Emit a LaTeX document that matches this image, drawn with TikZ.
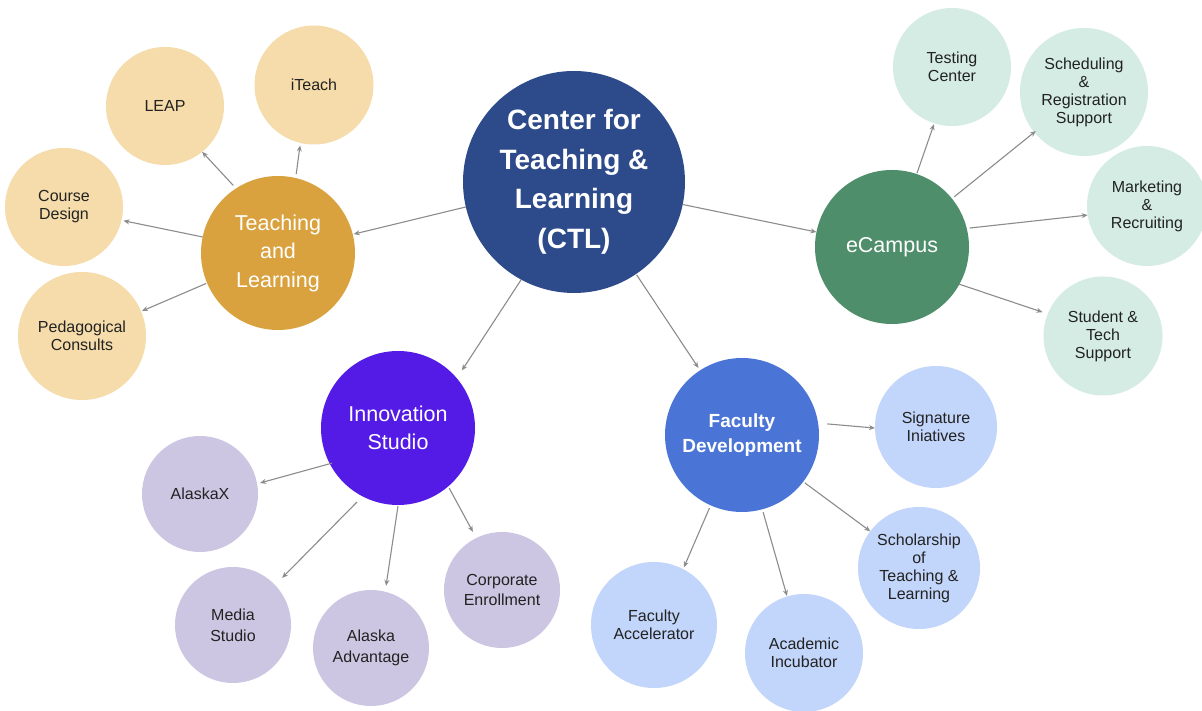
\documentclass[tikz,border=0pt]{standalone}
\usepackage{fontspec}
\setmainfont{Liberation Sans}
\usetikzlibrary{arrows.meta,calc}
\definecolor{ctlc}{HTML}{2D4A8A}
\definecolor{tldark}{HTML}{D9A23E}
\definecolor{tllight}{HTML}{F5DCAA}
\definecolor{ecdark}{HTML}{4F8E6B}
\definecolor{eclight}{HTML}{D4ECE3}
\definecolor{indark}{HTML}{531BE5}
\definecolor{inlight}{HTML}{CCC6E2}
\definecolor{fddark}{HTML}{4A74D6}
\definecolor{fdlight}{HTML}{C2D5FA}
\definecolor{arrgray}{HTML}{8C8C8C}
\definecolor{txt}{HTML}{222222}
\newcommand\linkto[6]{\draw[conn] ($(#1)+(#2:#3pt)$) -- ($(#4)+(#5:#6pt)$);}
\begin{document}
\begin{tikzpicture}[x=1pt,y=1pt,
  bub/.style={circle,inner sep=0pt,outer sep=0pt,align=center,draw=none},
  leaf/.style={bub,text=txt,font=\fontsize{16}{18}\selectfont},
  leafw/.style={bub,text=txt,font=\fontsize{16}{21}\selectfont},
  hub/.style={bub,text=white,minimum size=154pt,font=\fontsize{21.5}{28.5}\selectfont},
  conn/.style={draw=arrgray,line width=1.1pt,-{Stealth[length=6pt,width=5pt]}}]
\useasboundingbox (0,0) rectangle (1202,711);
\fill[white] (0,0) rectangle (1202,711);
% center
\node[bub,fill=ctlc,text=white,minimum size=222pt,font=\bfseries\fontsize{28}{39.5}\selectfont] (ctl) at (574,529) {Center for\\Teaching \&\\Learning\\(CTL)};
% hubs
\node[hub,fill=tldark] (tl) at (278,458) {Teaching\\and\\Learning};
\node[hub,fill=ecdark] (ec) at (892,464) {eCampus};
\node[hub,fill=indark] (inno) at (398,283) {Innovation\\Studio};
\node[hub,fill=fddark,font=\bfseries\fontsize{19}{25.5}\selectfont] (fd) at (742,276) {Faculty\\Development};
% teaching and learning leaves
\node[leaf,fill=tllight,minimum size=118pt] (leap) at (165,605) {LEAP};
\node[leaf,fill=tllight,minimum size=119pt] (iteach) at (314,626) {iTeach};
\node[leaf,fill=tllight,minimum size=118pt] (course) at (64,504) {Course\\Design};
\node[leaf,fill=tllight,minimum size=128pt] (ped) at (82,375) {Pedagogical\\Consults};
% ecampus leaves
\node[leaf,fill=eclight,minimum size=118pt] (test) at (952,644) {Testing\\Center};
\node[leaf,fill=eclight,minimum size=128pt] (sched) at (1084,619) {Scheduling\\\&\\Registration\\Support};
\node[leaf,fill=eclight,minimum size=120pt] (mkt) at (1147,505) {Marketing\\\&\\Recruiting};
\node[leaf,fill=eclight,minimum size=119pt] (stud) at (1103,375) {Student \&\\Tech\\Support};
% innovation leaves
\node[leafw,fill=inlight,minimum size=116pt] (ax) at (200,217) {AlaskaX};
\node[leafw,fill=inlight,minimum size=116pt] (media) at (233,86) {Media\\Studio};
\node[leafw,fill=inlight,minimum size=116pt] (aa) at (371,63) {Alaska\\Advantage};
\node[leaf,fill=inlight,minimum size=116pt,font=\fontsize{16}{20}\selectfont] (corp) at (502,121) {Corporate\\Enrollment};
% faculty development leaves
\node[leaf,fill=fdlight,minimum size=122pt] (sig) at (936,284) {Signature\\Iniatives};
\node[leaf,fill=fdlight,minimum size=122pt] (schol) at (919,143) {Scholarship\\of\\Teaching \&\\Learning};
\node[leaf,fill=fdlight,minimum size=126pt] (acc) at (654,86) {Faculty\\Accelerator};
\node[leaf,fill=fdlight,minimum size=118pt] (inc) at (804,58) {Academic\\Incubator};
% connectors
\linkto{ctl}{193}{111}{tl}{14}{78}
\linkto{ctl}{-11.7}{111}{ec}{168.8}{77}
\linkto{ctl}{241.6}{111}{inno}{42}{86}
\linkto{ctl}{-56}{112}{fd}{123}{80}
\linkto{tl}{123.5}{81}{leap}{-51}{59}
\linkto{tl}{77}{81}{iteach}{-103}{62}
\linkto{tl}{168}{77}{course}{-13}{61}
\linkto{tl}{203}{78}{ped}{22.6}{65}
\linkto{ec}{71.3}{78}{test}{252.5}{60}
\linkto{ec}{38.9}{80}{sched}{219}{62}
\linkto{ec}{13.7}{80}{mkt}{188.7}{60}
\linkto{ec}{-29}{76.5}{stud}{158.5}{65}
\linkto{inno}{208}{75}{ax}{10.4}{61}
\linkto{inno}{241}{84.6}{media}{43.8}{68}
\linkto{inno}{-90}{78}{aa}{76.4}{64}
\linkto{inno}{-49.6}{79}{corp}{116.6}{65}
\linkto{fd}{7.4}{86}{sig}{181}{61}
\linkto{fd}{-37.3}{79}{schol}{143}{61}
\linkto{fd}{246}{80}{acc}{62.6}{65}
\linkto{fd}{-74.7}{80}{inc}{106.6}{59.5}
\end{tikzpicture}
\end{document}
